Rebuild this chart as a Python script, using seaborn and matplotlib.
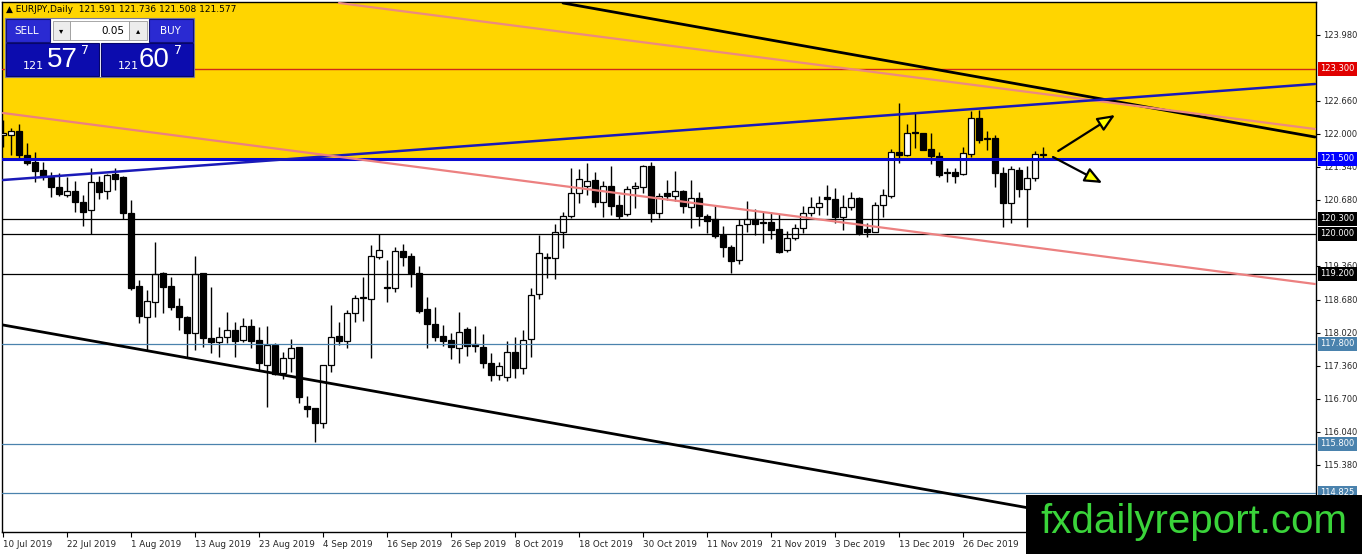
import numpy as np
import pandas as pd
import seaborn as sns
import matplotlib.pyplot as plt
import matplotlib.transforms as mtransforms
from matplotlib.patches import Rectangle

# EURJPY daily candles, 10 Jul 2019 .. 10 Jan 2020
opens = [121.98, 121.98, 122.06, 121.58, 121.44, 121.28, 121.14, 120.94, 120.78, 120.86,
         120.64, 120.48, 121.04, 120.86, 121.20, 121.14, 120.42, 118.96, 118.34, 118.64,
         119.22, 118.96, 118.56, 118.34, 118.02, 119.22, 117.92, 117.84, 117.94, 118.08,
         117.88, 118.16, 117.88, 117.38, 117.78, 117.22, 117.52, 117.74, 116.56, 116.52,
         116.22, 117.38, 117.96, 117.86, 118.42, 118.74, 118.70, 119.54, 118.94, 118.92,
         119.66, 119.56, 119.22, 118.50, 118.20, 117.96, 117.88, 117.72, 118.10, 117.79,
         117.74, 117.42, 117.18, 117.14, 117.64, 117.32, 117.90, 118.80, 119.53, 119.52,
         120.04, 120.36, 120.82, 120.96, 121.08, 120.64, 120.96, 120.58, 120.40, 120.92,
         120.94, 121.36, 120.42, 120.82, 120.76, 120.86, 120.54, 120.72, 120.36, 120.30,
         119.98, 119.74, 119.48, 120.20, 120.30, 120.24, 120.24, 120.10, 119.68, 119.92,
         120.12, 120.42, 120.54, 120.73, 120.70, 120.34, 120.54, 120.72, 120.10, 120.04,
         120.58, 120.76, 121.64, 121.58, 122.03, 122.02, 121.70, 121.56, 121.24, 121.24,
         121.20, 121.60, 122.32, 121.91, 121.92, 121.22, 120.62, 121.28, 120.90, 121.12,
         121.591]
highs = [122.28, 122.12, 122.20, 121.82, 121.64, 121.44, 121.24, 121.22, 121.14, 121.06,
         120.78, 121.32, 121.16, 121.20, 121.32, 121.16, 120.68, 119.08, 118.88, 119.84,
         119.24, 119.14, 118.72, 118.36, 119.56, 119.22, 118.94, 118.14, 118.44, 118.24,
         118.32, 118.30, 118.14, 118.16, 117.82, 117.64, 117.90, 117.74, 116.76, 116.52,
         117.38, 118.58, 118.24, 118.48, 118.78, 119.14, 119.78, 120.00, 119.48, 119.74,
         119.80, 119.62, 119.36, 118.74, 118.54, 118.18, 118.02, 118.44, 118.14, 118.16,
         118.00, 117.62, 117.44, 117.86, 117.94, 118.08, 118.92, 119.98, 119.62, 120.20,
         120.44, 121.32, 121.30, 121.42, 121.24, 121.06, 121.36, 120.78, 120.96, 121.04,
         121.38, 121.44, 120.82, 121.08, 121.26, 120.88, 121.08, 120.84, 120.40, 120.58,
         120.16, 119.78, 120.30, 120.66, 120.50, 120.44, 120.44, 120.40, 120.06, 120.20,
         120.56, 120.74, 120.76, 120.98, 120.92, 120.78, 120.84, 120.74, 120.22, 120.64,
         120.90, 121.70, 122.62, 122.20, 122.42, 122.02, 122.02, 121.64, 121.32, 121.32,
         121.74, 122.46, 122.48, 122.06, 121.98, 121.34, 121.36, 121.34, 121.36, 121.66,
         121.736]
lows = [121.74, 121.58, 121.48, 121.38, 121.04, 121.08, 120.74, 120.76, 120.74, 120.44,
        120.16, 120.00, 120.70, 120.70, 120.88, 120.30, 118.88, 118.22, 117.68, 118.34,
        118.42, 118.48, 118.08, 117.52, 117.68, 117.74, 117.62, 117.54, 117.82, 117.54,
        117.84, 117.72, 117.28, 116.54, 117.18, 117.10, 117.24, 116.62, 116.34, 115.84,
        116.12, 117.24, 117.78, 117.72, 118.24, 118.26, 117.52, 119.50, 118.64, 118.84,
        119.36, 118.94, 118.42, 117.72, 117.86, 117.76, 117.50, 117.42, 117.56, 117.64,
        117.32, 117.06, 117.08, 117.06, 117.12, 117.20, 117.54, 118.70, 119.12, 119.10,
        119.72, 120.32, 120.62, 120.78, 120.54, 120.34, 120.38, 120.30, 120.36, 120.52,
        120.82, 120.24, 120.32, 120.68, 120.66, 120.42, 120.12, 120.16, 120.02, 119.92,
        119.54, 119.22, 119.40, 120.04, 119.98, 119.82, 119.90, 119.62, 119.64, 119.88,
        120.02, 120.36, 120.38, 120.38, 120.22, 120.08, 120.48, 119.98, 119.94, 120.04,
        120.34, 120.72, 121.42, 121.56, 121.72, 121.68, 121.40, 121.14, 121.04, 121.02,
        121.18, 121.54, 121.82, 121.68, 120.94, 120.14, 120.22, 120.74, 120.14, 121.06,
        121.508]
closes = [122.02, 122.06, 121.58, 121.42, 121.26, 121.16, 120.94, 120.80, 120.86, 120.64,
          120.44, 121.04, 120.84, 121.18, 121.10, 120.42, 118.92, 118.36, 118.66, 119.20,
          118.94, 118.54, 118.34, 118.02, 119.20, 117.92, 117.84, 117.94, 118.08, 117.86,
          118.16, 117.86, 117.42, 117.78, 117.20, 117.52, 117.72, 116.74, 116.50, 116.22,
          117.38, 117.94, 117.86, 118.42, 118.72, 118.72, 119.56, 119.68, 118.92, 119.66,
          119.54, 119.22, 118.46, 118.20, 117.94, 117.86, 117.74, 118.04, 117.76, 117.77,
          117.42, 117.18, 117.36, 117.64, 117.32, 117.88, 118.78, 119.62, 119.51, 120.04,
          120.36, 120.82, 121.10, 121.06, 120.64, 120.96, 120.56, 120.36, 120.90, 120.96,
          121.36, 120.42, 120.76, 120.76, 120.86, 120.56, 120.72, 120.36, 120.26, 119.96,
          119.74, 119.46, 120.18, 120.30, 120.20, 120.22, 120.08, 119.64, 119.92, 120.12,
          120.42, 120.54, 120.62, 120.71, 120.34, 120.54, 120.72, 120.02, 120.04, 120.58,
          120.78, 121.64, 121.58, 122.02, 122.01, 121.68, 121.56, 121.18, 121.22, 121.16,
          121.62, 122.32, 121.88, 121.89, 121.22, 120.62, 121.30, 120.90, 121.12, 121.60,
          121.577]

date_labels = ["10 Jul 2019", "22 Jul 2019", "1 Aug 2019", "13 Aug 2019", "23 Aug 2019",
               "4 Sep 2019", "16 Sep 2019", "26 Sep 2019", "8 Oct 2019", "18 Oct 2019",
               "30 Oct 2019", "11 Nov 2019", "21 Nov 2019", "3 Dec 2019", "13 Dec 2019",
               "26 Dec 2019"]
bars_per_label = 8

price_ticks = [123.98, 122.66, 122.00, 121.34, 120.68, 119.36, 118.68, 118.02,
               117.36, 116.70, 116.04, 115.38, 114.72]

# horizontal levels and their label colours
levels = [123.300, 121.500, 120.300, 120.000, 119.200, 117.800, 115.800, 114.825]
level_colors = ["#e00000", "#0000ff", "#000000", "#000000", "#000000",
                "#4a82ad", "#4a82ad", "#4a82ad"]
level_line_colors = ["#d02a1a", "#0a0ad0", "#000000", "#000000", "#000000",
                     "#4a82ad", "#4a82ad", "#4a82ad"]
level_widths = [1.0, 2.2, 0.9, 0.9, 0.9, 0.9, 0.9, 0.9]

# trendlines: two anchor points each (bar index, price)
trend_bars = [[70, 164], [42, 164], [0, 164], [0, 164], [0, 164]]
trend_prices = [[124.62, 121.94], [124.62, 122.10], [121.08, 123.00],
                [122.42, 119.00], [118.18, 113.50]]
trend_colors = ["#000000", "#ec8a80", "#1a1ab8", "#ec8080", "#000000"]
trend_widths = [2.0, 1.6, 1.8, 1.6, 2.0]

arrow_start = [(131.9, 121.66), (131.25, 121.54)]
arrow_end = [(139.0, 122.38), (137.4, 121.02)]

yellow_zone = (121.5, 124.64)

sns.set_style("white")
plt.rcParams["font.family"] = ["DejaVu Sans"]

df = pd.DataFrame({"bar": np.arange(len(opens)), "open": opens, "high": highs,
                   "low": lows, "close": closes})

W, H = 1362, 554
fig = plt.figure(figsize=(W / 100, H / 100), dpi=100)
fig.patch.set_facecolor("white")
ax = fig.add_axes([2 / W, 22 / H, 1314 / W, 530 / H])
ax.set_facecolor("white")
ax.set_xlim(-0.125, 164.125)
ax.set_ylim(114.04, 124.64)

ax.axhspan(yellow_zone[0], yellow_zone[1], color="#ffd500", zorder=0, lw=0)

# candles
up = df["close"] >= df["open"]
ax.vlines(df["bar"], df["low"], df["high"], color="black", lw=1.0, zorder=2)
body_lo = np.minimum(df["open"], df["close"])
body_h = np.maximum(np.abs(df["close"] - df["open"]), 0.015)
ax.bar(df["bar"], body_h, bottom=body_lo, width=0.68,
       color=np.where(up, "white", "black"), edgecolor="black", lw=0.9, zorder=3)

# horizontal levels
for lv, c, w in zip(levels, level_line_colors, level_widths):
    ax.axhline(lv, color=c, lw=w, zorder=4)

# trendlines
for bx, py, c, w in zip(trend_bars, trend_prices, trend_colors, trend_widths):
    sns.lineplot(x=bx, y=py, color=c, lw=w, ax=ax, zorder=5, legend=False)

for s, e in zip(arrow_start, arrow_end):
    ax.annotate("", xy=e, xytext=s, zorder=6,
                arrowprops=dict(arrowstyle="-|>,head_length=0.7,head_width=0.3",
                                mutation_scale=15, fc="#ffff00", ec="black", lw=1.6,
                                shrinkA=0, shrinkB=0))

ax.set_xlabel("")
ax.set_ylabel("")

# x axis dates
ax.set_xticks(np.arange(len(date_labels)) * bars_per_label)
ax.set_xticklabels(date_labels, ha="left", fontsize=6.3)
ax.tick_params(axis="x", length=3.5, width=0.8, pad=2, bottom=True, color="black")

# right price axis
ax.yaxis.tick_right()
ax.set_yticks(price_ticks)
ax.set_yticklabels([f"{p:.3f}" for p in price_ticks], fontsize=6.0)
ax.tick_params(axis="y", length=3, width=0.8, pad=2, right=True, color="black")

trans = mtransforms.blended_transform_factory(ax.transAxes, ax.transData)
for lv, c in zip(levels, level_colors):
    ax.text(1.0034, lv, f"{lv:.3f}", transform=trans, va="center", ha="left",
            fontsize=6.0, color="white", clip_on=False, zorder=10,
            bbox=dict(boxstyle="square,pad=0.25", fc=c, ec="none"))

for sp in ax.spines.values():
    sp.set_color("black")
    sp.set_linewidth(1.0)

# overlay in pixel coordinates: trade panel, header and logo
ov = fig.add_axes([0, 0, 1, 1])
ov.set_xlim(0, W)
ov.set_ylim(H, 0)
ov.axis("off")
ov.patch.set_visible(False)

ov.text(6, 9, "\u25b2 EURJPY,Daily  121.591 121.736 121.508 121.577", fontsize=6.5,
        va="center", ha="left", color="black")

ov.add_patch(Rectangle((5, 18), 189, 59, fc="white", ec="#7a7a9a", lw=0.8))
ov.add_patch(Rectangle((6, 19), 44, 23, fc="#2a2ad2", ec="#10107a", lw=0.8))
ov.add_patch(Rectangle((149, 19), 44, 23, fc="#2a2ad2", ec="#10107a", lw=0.8))
ov.add_patch(Rectangle((53, 21), 17, 19, fc="#ececec", ec="#9a9a9a", lw=0.6))
ov.add_patch(Rectangle((70, 21), 59, 19, fc="white", ec="#9a9a9a", lw=0.6))
ov.add_patch(Rectangle((129, 21), 18, 19, fc="#ececec", ec="#9a9a9a", lw=0.6))
ov.text(27, 30.5, "SELL", fontsize=7.5, color="white", ha="center", va="center")
ov.text(170, 30.5, "BUY", fontsize=7.5, color="white", ha="center", va="center")
ov.text(61.5, 30.5, "\u25be", fontsize=6, color="black", ha="center", va="center")
ov.text(138, 30.5, "\u25b4", fontsize=6, color="black", ha="center", va="center")
ov.text(124, 30.5, "0.05", fontsize=7.5, color="black", ha="right", va="center")

ov.add_patch(Rectangle((6, 43), 93, 33, fc="#0c0cae", ec="#06066a", lw=0.8))
ov.add_patch(Rectangle((101, 43), 92, 33, fc="#0c0cae", ec="#06066a", lw=0.8))
ov.text(23, 66, "121", fontsize=8, color="white", ha="left", va="center")
ov.text(47, 60, "57", fontsize=20, color="white", ha="left", va="center",
        family=["Liberation Sans", "DejaVu Sans"])
ov.text(81, 51, "7", fontsize=9, color="white", ha="left", va="center")
ov.text(118, 66, "121", fontsize=8, color="white", ha="left", va="center")
ov.text(139, 60, "60", fontsize=20, color="white", ha="left", va="center",
        family=["Liberation Sans", "DejaVu Sans"])
ov.text(174, 51, "7", fontsize=9, color="white", ha="left", va="center")

ov.add_patch(Rectangle((1026, 495), W - 1026, H - 495, fc="black", ec="none", zorder=8))
ov.text(1040, 522, "fxdailyreport.com", fontsize=29, color="#3ad43a", ha="left",
        va="center", family=["Liberation Sans", "DejaVu Sans"], zorder=9)

fig.savefig("out.png", dpi=100, facecolor="white")
